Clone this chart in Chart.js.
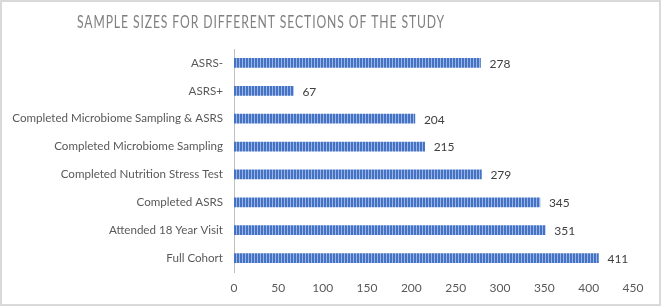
<!DOCTYPE html>
<html>
<head>
<meta charset="utf-8">
<script src="https://cdn.jsdelivr.net/npm/chart.js@4.4.1/dist/chart.umd.min.js"></script>
<style>
  html, body { margin: 0; padding: 0; background: #fff; }
  #wrap { position: relative; width: 661px; height: 306px; }
</style>
</head>
<body>
<div id="wrap"><canvas id="chart" width="661" height="306"></canvas></div>
<script>
// Data (top to bottom)
const categories = [
  'ASRS-',
  'ASRS+',
  'Completed Microbiome Sampling & ASRS',
  'Completed Microbiome Sampling',
  'Completed Nutrition Stress Test',
  'Completed ASRS',
  'Attended 18 Year Visit',
  'Full Cohort',
];
const sampleSizes = [278, 67, 204, 215, 279, 345, 351, 411];
const xMax = 450;
const xStep = 50;
const chartTitle = 'SAMPLE SIZES FOR DIFFERENT SECTIONS OF THE STUDY';

const FONT = 'Lato, "Open Sans", sans-serif';

// fine vertical stripes like the original fill
function stripePattern() {
  const c = document.createElement('canvas');
  c.width = 3; c.height = 1;
  const g = c.getContext('2d');
  g.fillStyle = '#4472c4'; g.fillRect(0, 0, 2, 1);
  g.fillStyle = '#9db5e3'; g.fillRect(2, 0, 1, 1);
  return document.getElementById('chart').getContext('2d').createPattern(c, 'repeat');
}

// frame + title, drawn by hand so the narrow letter-spaced look can match
const framePlugin = {
  id: 'frame',
  beforeDraw(chart) {
    const ctx = chart.ctx;
    ctx.save();
    ctx.strokeStyle = '#d9d9d9';
    ctx.lineWidth = 2;
    ctx.strokeRect(1, 1, chart.width - 2, chart.height - 2);
    ctx.fillStyle = '#808080';
    ctx.font = '16.5px ' + FONT;
    ctx.letterSpacing = '1.2px';
    ctx.textAlign = 'center';
    ctx.textBaseline = 'middle';
    const w = ctx.measureText(chartTitle).width;
    const sx = 368 / w;
    ctx.translate(261, 23);
    ctx.scale(sx, 1);
    ctx.fillText(chartTitle, 0, 0);
    ctx.restore();
  },
};

// value labels right of each bar
const valueLabels = {
  id: 'valueLabels',
  afterDatasetsDraw(chart) {
    const ctx = chart.ctx;
    const meta = chart.getDatasetMeta(0);
    ctx.save();
    ctx.fillStyle = '#404040';
    ctx.font = '12px ' + FONT;
    ctx.textAlign = 'left';
    ctx.textBaseline = 'middle';
    meta.data.forEach((bar, i) => {
      ctx.fillText(String(sampleSizes[i]), bar.x + 9, bar.y + 1);
    });
    ctx.restore();
  },
};

new Chart(document.getElementById('chart'), {
  type: 'bar',
  data: {
    labels: categories,
    datasets: [{
      data: sampleSizes,
      backgroundColor: stripePattern(),
      borderWidth: 0,
      barThickness: 9,
    }],
  },
  options: {
    indexAxis: 'y',
    responsive: false,
    animation: false,
    layout: { padding: { top: 49, left: 4, right: 28, bottom: 0 } },
    plugins: {
      legend: { display: false },
      tooltip: { enabled: false },
      title: { display: false },
    },
    scales: {
      x: {
        min: 0,
        max: xMax,
        afterFit: (s) => { s.height = 34; },
        grid: { display: false, drawTicks: false },
        border: { display: false },
        ticks: {
          stepSize: xStep,
          padding: 9,
          color: '#595959',
          font: { family: FONT, size: 12 },
        },
      },
      y: {
        afterFit: (s) => { s.width = 230; },
        grid: { display: false, drawTicks: false },
        border: { display: true, color: '#bfbfbf', width: 1 },
        ticks: {
          padding: 11,
          color: '#595959',
          font: { family: FONT, size: 11.6 },
        },
      },
    },
  },
  plugins: [framePlugin, valueLabels],
});
</script>
</body>
</html>
